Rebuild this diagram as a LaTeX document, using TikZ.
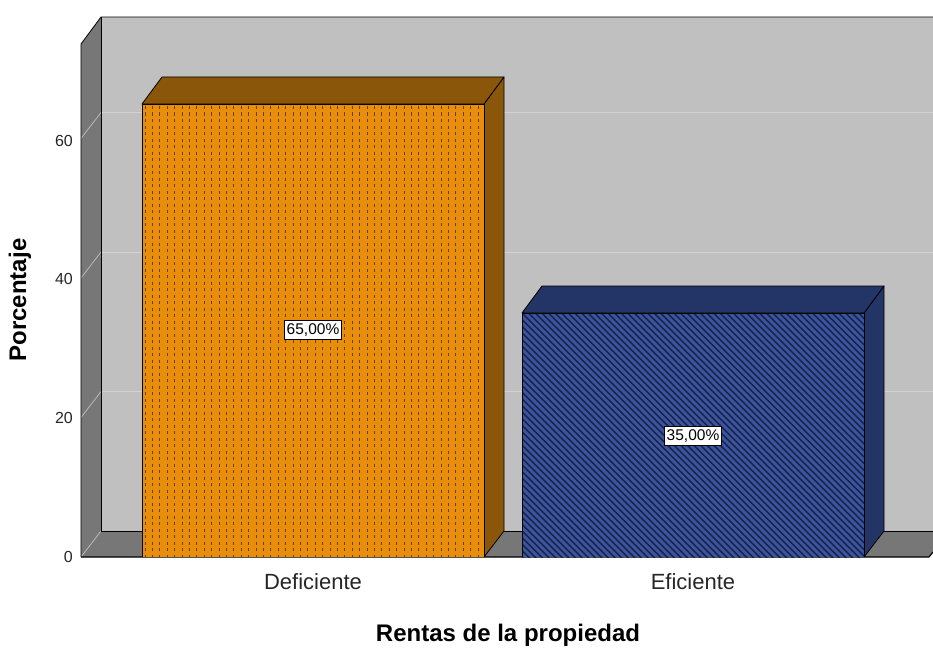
\documentclass[tikz,border=0pt]{standalone}
\usepackage{fontspec}
\setmainfont{Liberation Sans}
\definecolor{backwall}{HTML}{C0C0C0}
\definecolor{sidewall}{HTML}{777777}
\definecolor{orfront}{HTML}{E88E0C}
\definecolor{ordark}{HTML}{8A560A}
\definecolor{ordot}{HTML}{6A4008}
\definecolor{blfront}{HTML}{3B55A3}
\definecolor{bldark}{HTML}{233566}
\definecolor{blstripe}{HTML}{1A2548}
\definecolor{gridc}{HTML}{D2D2D2}
\begin{document}
\begin{tikzpicture}[x=1pt,y=-1pt,
  edge/.style={draw=black,line width=0.8pt,line join=round},
  grid/.style={draw=gridc,line width=0.8pt},
  ticklab/.style={anchor=east,inner sep=0pt,font=\fontsize{16}{18}\selectfont,text=black!85},
  catlab/.style={font=\fontsize{22}{24}\selectfont,text=black!85},
  vallab/.style={draw=black,fill=white,inner xsep=2.5pt,inner ysep=3pt,line width=0.7pt,font=\fontsize{15.5}{17}\selectfont},
  axtitle/.style={font=\bfseries\fontsize{24}{26}\selectfont}]
\useasboundingbox (0,0) rectangle (933,650);
% back wall
\fill[backwall] (101,17) rectangle (933,531);
\foreach \v in {20,40,60}{
  \draw[grid] (101,{531-\v*6.975}) -- (933,{531-\v*6.975});
}
% left wall
\fill[sidewall] (81,44) -- (101,17) -- (101,531) -- (81,557) -- cycle;
\foreach \v in {20,40,60}{
  \draw[draw=gray!55,line width=0.8pt] (81,{557-\v*6.975}) -- (101,{531-\v*6.975});
}
% floor
\fill[sidewall] (81,557) -- (101,531) -- (933,531) -- (933,552) -- (929,557) -- cycle;
\draw[draw=gray!55,line width=0.8pt] (81,557) -- (101,531);
\draw[edge] (81,557) -- (81,44) -- (101,17) -- (933,17);
\draw[edge] (101,17) -- (101,531);
\draw[edge] (101,531) -- (933,531);
\draw[edge,line width=1.2pt] (81,557) -- (929,557) -- (933,552);
% Deficiente bar
\path[fill=ordark,edge] (484,104) -- (504,77) -- (504,531) -- (484,557) -- cycle;
\path[fill=ordark,edge] (142,104) -- (162,77) -- (504,77) -- (484,104) -- cycle;
\fill[orfront] (142,104) rectangle (484,557);
\begin{scope}
\clip (142,104) rectangle (484,557);
\foreach \i in {0,...,46}{
  \draw[ordot,line width=1pt,dash pattern=on 3pt off 3.5pt] ({145+\i*7.4},106) -- ({145+\i*7.4},557);
}
\end{scope}
\draw[edge] (142,557) -- (142,104) -- (484,104) -- (484,557);
% Eficiente bar
\path[fill=bldark,edge] (864,313) -- (884,286) -- (884,531) -- (864,557) -- cycle;
\path[fill=bldark,edge] (522,313) -- (542,286) -- (884,286) -- (864,313) -- cycle;
\fill[blfront] (522,313) rectangle (864,557);
\begin{scope}
\clip (522,313) rectangle (864,557);
\foreach \i in {-40,...,55}{
  \draw[blstripe,line width=1.6pt] ({522+\i*6.6},313) -- ({522+\i*6.6+260},573);
}
\end{scope}
\draw[edge] (522,557) -- (522,313) -- (864,313) -- (864,557);
% value labels
\node[vallab] (v1) at (313,330) {65,00\%};
\node[vallab] (v2) at (693,436) {35,00\%};
% tick labels
\node[ticklab] (t0) at (73,557) {0};
\node[ticklab] (t20) at (73,418) {20};
\node[ticklab] (t40) at (73,279) {40};
\node[ticklab] (t60) at (73,141) {60};
% category labels
\node[catlab] (c1) at (313,582) {Deficiente};
\node[catlab] (c2) at (693,582) {Eficiente};
% axis titles
\node[axtitle] (xt) at (508,635) {Rentas de la propiedad};
\node[axtitle,rotate=90] (yt) at (20,300) {Porcentaje};
\end{tikzpicture}
\end{document}
